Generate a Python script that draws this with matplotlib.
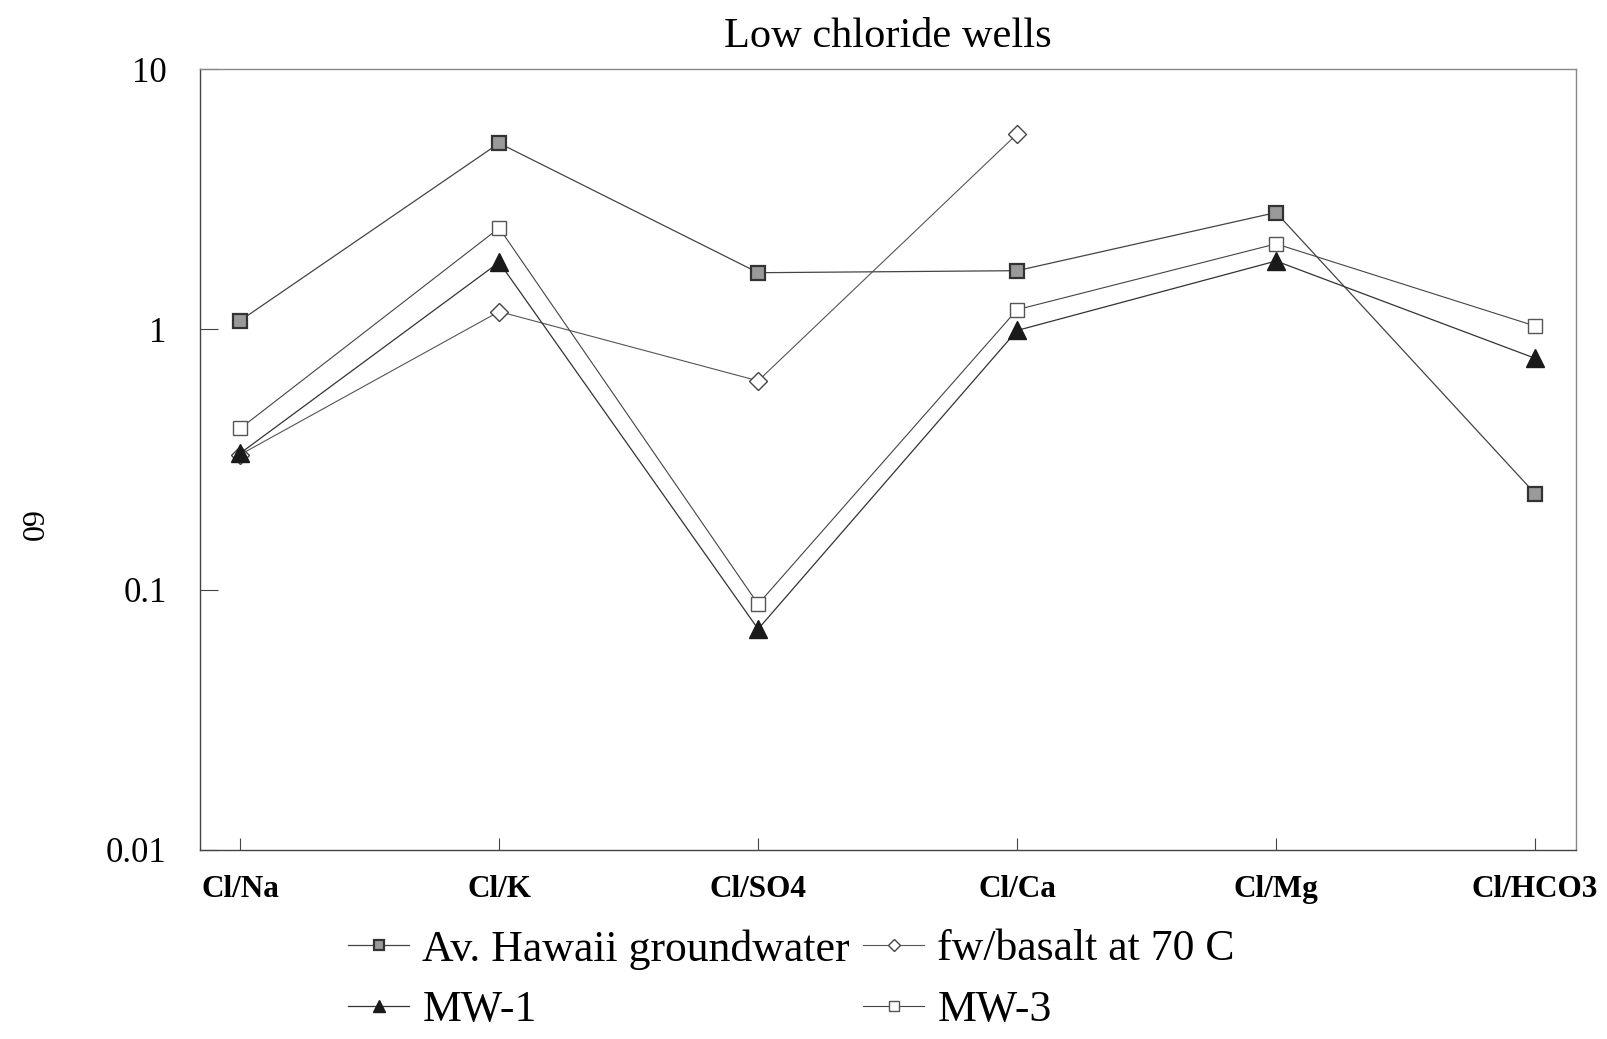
import matplotlib.pyplot as plt
from matplotlib.ticker import FixedLocator, NullLocator

# ratio categories along the x axis
ratios = ['Cl/Na', 'Cl/K', 'Cl/SO4', 'Cl/Ca', 'Cl/Mg', 'Cl/HCO3']

# ratio values per water type (meq/meq)
hawaii_gw = [1.08, 5.19, 1.65, 1.68, 2.81, 0.234]
fw_basalt = [0.33, 1.17, 0.634, 5.63]          # no Mg / HCO3 values
mw1 = [0.334, 1.81, 0.0706, 0.99, 1.83, 0.774]
mw3 = [0.416, 2.45, 0.088, 1.19, 2.13, 1.03]

yticks = [0.01, 0.1, 1, 10]
ytick_labels = ['0.01', '0.1', '1', '10']

plt.rcParams['font.family'] = ['Liberation Serif', 'DejaVu Serif']

fig = plt.figure(figsize=(16.08, 10.39), dpi=100)
ax = fig.add_axes([200 / 1608, 1 - 850 / 1039, 1376 / 1608, 781 / 1039])

x = list(range(len(ratios)))

l_hw, = ax.plot(x, hawaii_gw, color='#444444', lw=0.9, marker='s', ms=10,
                mfc='#9a9a9a', mec='#333333', mew=1.6, label='Av. Hawaii groundwater')
l_fw, = ax.plot(x[:len(fw_basalt)], fw_basalt, color='#555555', lw=0.8, marker='D', ms=9,
                mfc='white', mec='#444444', mew=1.0, label='fw/basalt at 70 C')
l_m1, = ax.plot(x, mw1, color='#333333', lw=0.9, marker='^', ms=13,
                mfc='#1a1a1a', mec='#1a1a1a', label='MW-1')
l_m3, = ax.plot(x, mw3, color='#444444', lw=0.8, marker='s', ms=10,
                mfc='white', mec='#555555', mew=1.0, label='MW-3')

ax.set_yscale('log')
ax.set_ylim(0.01, 10)
ax.set_xlim(-0.155, len(ratios) - 1 + 0.158)
ax.yaxis.set_major_locator(FixedLocator(yticks))
ax.yaxis.set_minor_locator(NullLocator())
ax.set_yticklabels(ytick_labels, fontsize=25)
ax.set_xticks(x)
ax.set_xticklabels(ratios, fontsize=22.5, fontweight='bold')
ax.tick_params(axis='x', direction='in', length=9, width=0.8, color='#444444', pad=18)
ax.tick_params(axis='y', direction='in', length=13, width=0.8, color='#444444', pad=24)

for side in ['left', 'bottom']:
    ax.spines[side].set_color('#444444')
    ax.spines[side].set_linewidth(1.0)
for side in ['top', 'right']:
    ax.spines[side].set_color('#888888')
    ax.spines[side].set_linewidth(1.0)

ax.set_title('Low chloride wells', fontsize=30.5, pad=16)

fig.text(28 / 1608, 1 - 527 / 1039, '60', rotation=270, fontsize=23,
         ha='center', va='center')

# legend filled column by column, so order gives rows: Hawaii/fw, MW-1/MW-3
leg = fig.legend([l_hw, l_m1, l_fw, l_m3],
                 [l.get_label() for l in (l_hw, l_m1, l_fw, l_m3)],
                 loc='upper left', bbox_to_anchor=(348 / 1608, 1 - 929 / 1039),
                 ncol=2, frameon=False, fontsize=31.5, handlelength=1.4,
                 handletextpad=0.3, columnspacing=0.3, labelspacing=0.47,
                 markerscale=0.7, borderaxespad=0, borderpad=0)

fig.savefig('out.png', dpi=100)
